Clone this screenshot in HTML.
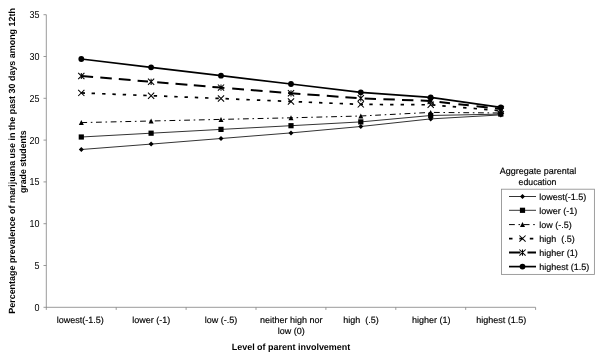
<!DOCTYPE html>
<html><head><meta charset="utf-8"><title>chart</title>
<style>
html,body{margin:0;padding:0;background:#fff;}
svg{display:block;text-rendering:geometricPrecision;font-family:"Liberation Sans",sans-serif;font-size:9px;fill:#000;}
text{stroke:#000;stroke-width:0.16px;}
.b{font-weight:bold;stroke:none;}
</style></head><body>
<svg width="603" height="360" viewBox="0 0 603 360">
<rect width="603" height="360" fill="#fff"/>

<g stroke="#868686" stroke-width="0.85" fill="none">
<path d="M46.3 14.7V309.9"/>
<path d="M43.5 307.3H535.6"/>
<path d="M43.5 14.70H46.3"/>
<path d="M43.5 56.50H46.3"/>
<path d="M43.5 98.30H46.3"/>
<path d="M43.5 140.10H46.3"/>
<path d="M43.5 181.90H46.3"/>
<path d="M43.5 223.70H46.3"/>
<path d="M43.5 265.50H46.3"/>
<path d="M116.20 307.3V309.9"/>
<path d="M186.10 307.3V309.9"/>
<path d="M256.00 307.3V309.9"/>
<path d="M325.90 307.3V309.9"/>
<path d="M395.80 307.3V309.9"/>
<path d="M465.70 307.3V309.9"/>
<path d="M535.60 307.3V309.9"/>
</g>
<text transform="translate(39.6 18.20) scale(0.891 1)" font-size="10.1" style="stroke:none" text-anchor="end">35</text>
<text transform="translate(39.6 60.00) scale(0.891 1)" font-size="10.1" style="stroke:none" text-anchor="end">30</text>
<text transform="translate(39.6 101.80) scale(0.891 1)" font-size="10.1" style="stroke:none" text-anchor="end">25</text>
<text transform="translate(39.6 143.60) scale(0.891 1)" font-size="10.1" style="stroke:none" text-anchor="end">20</text>
<text transform="translate(39.6 185.40) scale(0.891 1)" font-size="10.1" style="stroke:none" text-anchor="end">15</text>
<text transform="translate(39.6 227.20) scale(0.891 1)" font-size="10.1" style="stroke:none" text-anchor="end">10</text>
<text transform="translate(39.6 269.00) scale(0.891 1)" font-size="10.1" style="stroke:none" text-anchor="end">5</text>
<text transform="translate(39.6 310.80) scale(0.891 1)" font-size="10.1" style="stroke:none" text-anchor="end">0</text>
<text x="80.2" y="323.4" text-anchor="middle" xml:space="preserve">lowest(-1.5)</text>
<text x="151.2" y="323.4" text-anchor="middle" xml:space="preserve">lower (-1)</text>
<text x="221.1" y="323.4" text-anchor="middle" xml:space="preserve">low (-.5)</text>
<text x="291.3" y="323.4" text-anchor="middle">neither high nor</text>
<text x="291.3" y="334.2" text-anchor="middle">low (0)</text>
<text x="360.9" y="323.4" text-anchor="middle" xml:space="preserve">high  (.5)</text>
<text x="431.2" y="323.4" text-anchor="middle" xml:space="preserve">higher (1)</text>
<text x="501.2" y="323.4" text-anchor="middle" xml:space="preserve">highest (1.5)</text>
<text class="b" x="291" y="349.6" text-anchor="middle" textLength="118.6" lengthAdjust="spacingAndGlyphs">Level of parent involvement</text>
<text class="b" transform="translate(14.9 160.9) rotate(-90)" text-anchor="middle" textLength="305.6" lengthAdjust="spacingAndGlyphs">Percentage prevalence of marijuana use in the past 30 days among 12th</text>
<text class="b" transform="translate(26.3 161.7) rotate(-90)" text-anchor="middle" textLength="62.6" lengthAdjust="spacingAndGlyphs">grade students</text>
<polyline points="81.3,149.5 151.1,144.1 221.0,138.5 291.0,132.9 360.8,126.5 430.7,118.9 500.8,114.9" fill="none" stroke="#000" stroke-width="0.8"/>
<path d="M78.8 149.5L81.3 147.0L83.8 149.5L81.3 152.0Z" fill="#000"/>
<path d="M148.6 144.1L151.1 141.6L153.6 144.1L151.1 146.6Z" fill="#000"/>
<path d="M218.5 138.5L221.0 136.0L223.5 138.5L221.0 141.0Z" fill="#000"/>
<path d="M288.5 132.9L291.0 130.4L293.5 132.9L291.0 135.4Z" fill="#000"/>
<path d="M358.3 126.5L360.8 124.0L363.3 126.5L360.8 129.0Z" fill="#000"/>
<path d="M428.2 118.9L430.7 116.4L433.2 118.9L430.7 121.4Z" fill="#000"/>
<path d="M498.3 114.9L500.8 112.4L503.3 114.9L500.8 117.4Z" fill="#000"/>
<polyline points="81.3,137.0 151.1,133.2 221.0,129.4 291.0,125.7 360.8,121.9 430.7,115.5 500.8,114.1" fill="none" stroke="#000" stroke-width="0.8"/>
<rect x="78.7" y="134.4" width="5.2" height="5.2" fill="#000"/>
<rect x="148.5" y="130.6" width="5.2" height="5.2" fill="#000"/>
<rect x="218.4" y="126.8" width="5.2" height="5.2" fill="#000"/>
<rect x="288.4" y="123.1" width="5.2" height="5.2" fill="#000"/>
<rect x="358.2" y="119.3" width="5.2" height="5.2" fill="#000"/>
<rect x="428.1" y="112.9" width="5.2" height="5.2" fill="#000"/>
<rect x="498.2" y="111.5" width="5.2" height="5.2" fill="#000"/>
<polyline points="81.3,122.6 151.1,121.0 221.0,119.4 291.0,117.8 360.8,116.0 430.7,112.4 500.8,113.0" fill="none" stroke="#000" stroke-width="1.0" stroke-dasharray="5.8 3.7 1.6 3.6"/>
<path d="M78.8 125.1L81.3 120.1L83.8 125.1Z" fill="#000"/>
<path d="M148.6 123.5L151.1 118.5L153.6 123.5Z" fill="#000"/>
<path d="M218.5 121.9L221.0 116.9L223.5 121.9Z" fill="#000"/>
<path d="M288.5 120.3L291.0 115.3L293.5 120.3Z" fill="#000"/>
<path d="M358.3 118.5L360.8 113.5L363.3 118.5Z" fill="#000"/>
<path d="M428.2 114.9L430.7 109.9L433.2 114.9Z" fill="#000"/>
<path d="M498.3 115.5L500.8 110.5L503.3 115.5Z" fill="#000"/>
<path d="M81.6 92.91L85.0 93.05M91.6 93.31L95.0 93.45M102.1 93.73L105.5 93.87M112.4 94.15L115.8 94.28M122.7 94.56L126.1 94.70M133.1 94.98L136.5 95.11M143.3 95.39L146.7 95.52M153.7 95.80L157.1 95.94M164.0 96.22L167.4 96.35M174.3 96.63L177.7 96.77M184.5 97.04L187.9 97.17M194.8 97.45L198.2 97.59M205.1 97.86L208.5 98.00M215.4 98.28L218.8 98.41M225.5 98.69L228.9 98.84M236.0 99.14L239.4 99.29M246.4 99.59L249.8 99.73M256.9 100.04L260.3 100.18M267.3 100.48L270.7 100.63M277.8 100.93L281.2 101.08M288.2 101.38L291.0 101.50L291.6 101.52M298.7 101.82L302.1 101.96M308.7 102.24L312.1 102.38M319.0 102.66L322.4 102.80M329.3 103.09L332.7 103.23M339.6 103.52L343.0 103.66M349.7 103.94L353.1 104.08M359.6 104.35L360.8 104.40L363.0 104.41M369.3 104.45L372.7 104.47M379.7 104.51L383.1 104.53M390.1 104.57L393.5 104.59M400.6 104.63L404.0 104.65M411.1 104.69L414.5 104.71M421.5 104.75L424.9 104.77M432.0 104.91L435.4 105.20M442.3 105.79L445.7 106.08M452.7 106.68L456.1 106.97M463.1 107.57L466.5 107.86M473.6 108.47L477.0 108.76M484.1 109.37L487.5 109.66M494.5 110.26L497.9 110.55" fill="none" stroke="#000" stroke-width="1.7"/>
<path d="M78.2 89.8L84.4 96.0M78.2 96.0L84.4 89.8" stroke="#000" stroke-width="1.05" fill="none"/>
<path d="M148.0 92.6L154.2 98.8M148.0 98.8L154.2 92.6" stroke="#000" stroke-width="1.05" fill="none"/>
<path d="M217.9 95.4L224.1 101.6M217.9 101.6L224.1 95.4" stroke="#000" stroke-width="1.05" fill="none"/>
<path d="M287.9 98.4L294.1 104.6M287.9 104.6L294.1 98.4" stroke="#000" stroke-width="1.05" fill="none"/>
<path d="M357.7 101.3L363.9 107.5M357.7 107.5L363.9 101.3" stroke="#000" stroke-width="1.05" fill="none"/>
<path d="M427.6 101.7L433.8 107.9M427.6 107.9L433.8 101.7" stroke="#000" stroke-width="1.05" fill="none"/>
<path d="M497.7 107.7L503.9 113.9M497.7 113.9L503.9 107.7" stroke="#000" stroke-width="1.05" fill="none"/>
<path d="M81.5 76.02L93.1 76.98M100.3 77.58L111.8 78.53M118.8 79.12L130.6 80.10M137.6 80.68L148.0 81.54M157.2 82.31L168.5 83.24M175.5 83.82L187.4 84.81M193.8 85.34L205.5 86.31M212.4 86.89L221.0 87.60L224.4 87.88M232.2 88.51L244.0 89.47M250.8 90.03L262.6 90.99M269.5 91.55L281.2 92.50M288.1 93.06L291.0 93.30L300.4 93.97M307.4 94.47L319.6 95.35M326.8 95.86L338.5 96.70M345.4 97.20L356.6 98.00M364.7 98.45L376.0 98.89M383.4 99.17L394.8 99.61M402.0 99.89L413.4 100.33M420.7 100.61L430.7 101.00L432.4 101.19M439.5 102.00L450.0 103.20M458.4 104.16L468.8 105.35M476.5 106.23L487.7 107.50M495.0 108.34L500.8 109.00" fill="none" stroke="#000" stroke-width="2.0"/>
<path d="M78.2 72.9L84.4 79.1M78.2 79.1L84.4 72.9M81.3 72.9L81.3 79.1" stroke="#000" stroke-width="1.05" fill="none"/>
<path d="M148.0 78.7L154.2 84.9M148.0 84.9L154.2 78.7M151.1 78.7L151.1 84.9" stroke="#000" stroke-width="1.05" fill="none"/>
<path d="M217.9 84.5L224.1 90.7M217.9 90.7L224.1 84.5M221.0 84.5L221.0 90.7" stroke="#000" stroke-width="1.05" fill="none"/>
<path d="M287.9 90.2L294.1 96.4M287.9 96.4L294.1 90.2M291.0 90.2L291.0 96.4" stroke="#000" stroke-width="1.05" fill="none"/>
<path d="M357.7 95.2L363.9 101.4M357.7 101.4L363.9 95.2M360.8 95.2L360.8 101.4" stroke="#000" stroke-width="1.05" fill="none"/>
<path d="M427.6 97.9L433.8 104.1M427.6 104.1L433.8 97.9M430.7 97.9L430.7 104.1" stroke="#000" stroke-width="1.05" fill="none"/>
<path d="M497.7 105.9L503.9 112.1M497.7 112.1L503.9 105.9M500.8 105.9L500.8 112.1" stroke="#000" stroke-width="1.05" fill="none"/>
<polyline points="81.3,59.0 151.1,67.3 221.0,75.7 291.0,84.0 360.8,92.3 430.7,97.4 500.8,107.3" fill="none" stroke="#000" stroke-width="1.7"/>
<circle cx="81.3" cy="59.0" r="2.9" fill="#000"/>
<circle cx="151.1" cy="67.3" r="2.9" fill="#000"/>
<circle cx="221.0" cy="75.7" r="2.9" fill="#000"/>
<circle cx="291.0" cy="84.0" r="2.9" fill="#000"/>
<circle cx="360.8" cy="92.3" r="2.9" fill="#000"/>
<circle cx="430.7" cy="97.4" r="2.9" fill="#000"/>
<circle cx="500.8" cy="107.3" r="2.9" fill="#000"/>
<text x="538" y="173.6" text-anchor="middle">Aggregate parental</text>
<text x="537.5" y="184.6" text-anchor="middle" textLength="37.8" lengthAdjust="spacingAndGlyphs">education</text>
<rect x="501.5" y="189.2" width="92.9" height="85.2" fill="#fff" stroke="#8e8e8e" stroke-width="0.85"/>
<path d="M509 196.5H536" fill="none" stroke="#000" stroke-width="0.8"/>
<path d="M520.0 196.5L522.5 194.0L525.0 196.5L522.5 199.0Z" fill="#000"/>
<text x="539.3" y="199.7" xml:space="preserve">lowest(-1.5)</text>
<path d="M509 210.3H536" fill="none" stroke="#000" stroke-width="0.8"/>
<rect x="519.9" y="207.7" width="5.2" height="5.2" fill="#000"/>
<text x="539.3" y="213.5" xml:space="preserve">lower (-1)</text>
<path d="M509 224.6H536" fill="none" stroke="#000" stroke-width="1.0" stroke-dasharray="5.8 3.7 1.6 3.6"/>
<path d="M520.0 227.1L522.5 222.1L525.0 227.1Z" fill="#000"/>
<text x="539.3" y="227.8" xml:space="preserve">low (-.5)</text>
<path d="M509 238.6H536" fill="none" stroke="#000" stroke-width="1.7" stroke-dasharray="3.5 6.9"/>
<path d="M519.4 235.5L525.6 241.7M519.4 241.7L525.6 235.5" stroke="#000" stroke-width="1.05" fill="none"/>
<text x="539.3" y="241.8" xml:space="preserve">high  (.5)</text>
<path d="M509 252.6H536" fill="none" stroke="#000" stroke-width="2.0" stroke-dasharray="11.5 7"/>
<path d="M519.4 249.5L525.6 255.7M519.4 255.7L525.6 249.5M522.5 249.5L522.5 255.7" stroke="#000" stroke-width="1.05" fill="none"/>
<text x="539.3" y="255.8" xml:space="preserve">higher (1)</text>
<path d="M509 266.6H536" fill="none" stroke="#000" stroke-width="1.7"/>
<circle cx="522.5" cy="266.6" r="2.9" fill="#000"/>
<text x="539.3" y="269.8" xml:space="preserve">highest (1.5)</text>
</svg></body></html>
